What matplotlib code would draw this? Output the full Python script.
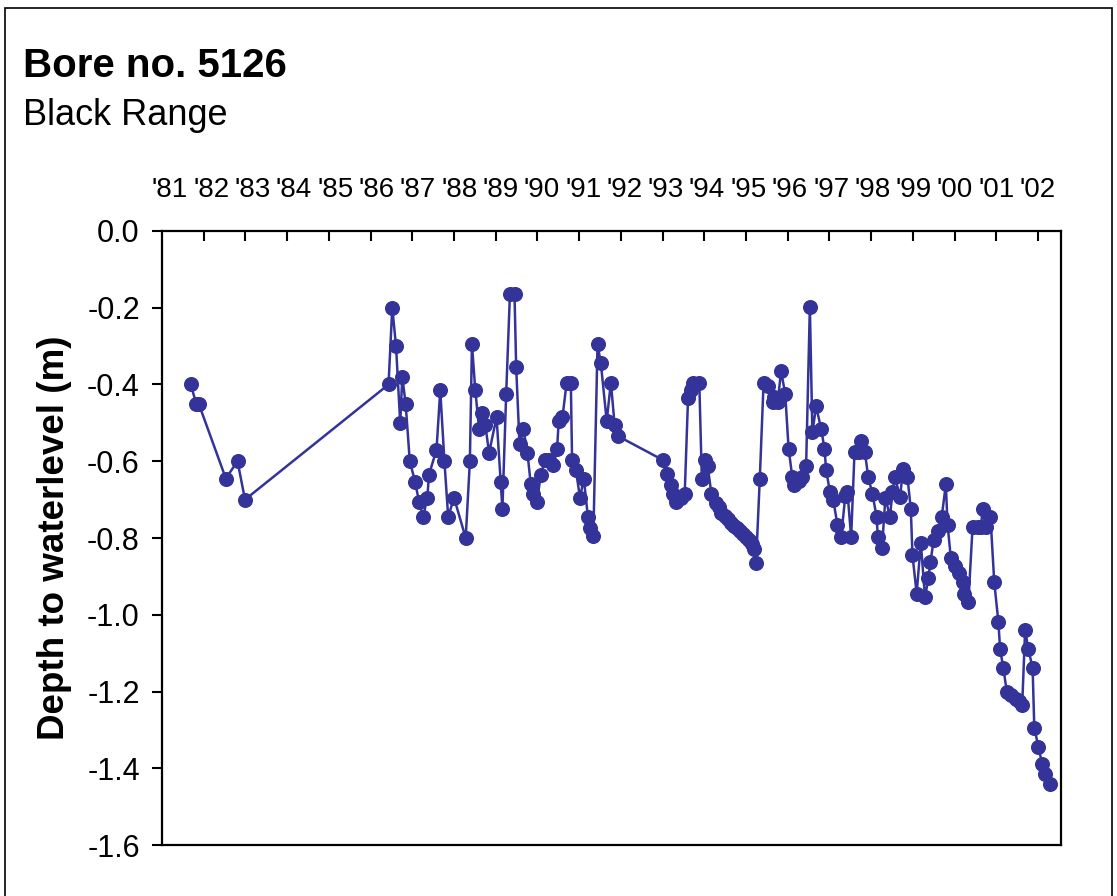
import matplotlib
matplotlib.use("Agg")
import matplotlib.pyplot as plt
from matplotlib.patches import Rectangle
import numpy as np

plt.rcParams['font.family'] = ['Liberation Sans', 'DejaVu Sans']

title = "Bore no. 5126"
subtitle = "Black Range"
ylabel = "Depth to waterlevel (m)"
year_labels = ["'81", "'82", "'83", "'84", "'85", "'86", "'87", "'88", "'89", "'90", "'91",
               "'92", "'93", "'94", "'95", "'96", "'97", "'98", "'99", "'00", "'01", "'02"]

dates = [1981.69, 1981.82, 1981.88, 1982.53, 1982.81, 1982.99,
         1986.43, 1986.52, 1986.61, 1986.71, 1986.76, 1986.84, 1986.94, 1987.07, 1987.16, 1987.26,
         1987.36, 1987.40, 1987.58, 1987.67, 1987.77, 1987.86, 1988.00, 1988.28, 1988.38, 1988.43,
         1988.51, 1988.60, 1988.66, 1988.75, 1988.84, 1989.02, 1989.12, 1989.16, 1989.25, 1989.34,
         1989.45, 1989.49, 1989.57, 1989.66, 1989.76, 1989.84, 1989.90, 1989.99, 1990.08, 1990.18,
         1990.28, 1990.38, 1990.47, 1990.51, 1990.60, 1990.70, 1990.80, 1990.83, 1990.92, 1991.02,
         1991.11, 1991.21, 1991.26, 1991.34, 1991.44, 1991.52, 1991.66, 1991.76, 1991.85, 1991.94,
         1993.01, 1993.10, 1993.20, 1993.24, 1993.33, 1993.44, 1993.53, 1993.61, 1993.68, 1993.74,
         1993.88, 1993.94, 1994.02, 1994.08, 1994.17, 1994.27, 1994.35, 1994.41, 1994.49, 1994.56,
         1994.63, 1994.72, 1994.79, 1994.86, 1994.93, 1995.00, 1995.08, 1995.14, 1995.20, 1995.24,
         1995.33, 1995.42, 1995.52, 1995.64, 1995.68, 1995.76, 1995.84, 1995.94, 1996.02, 1996.11,
         1996.16, 1996.26, 1996.35, 1996.44, 1996.53, 1996.59, 1996.68, 1996.80, 1996.88, 1996.92,
         1997.01, 1997.09, 1997.19, 1997.28, 1997.38, 1997.43, 1997.52, 1997.60, 1997.70, 1997.75,
         1997.85, 1997.93, 1998.03, 1998.13, 1998.16, 1998.26, 1998.34, 1998.45, 1998.51, 1998.57,
         1998.69, 1998.77, 1998.87, 1998.95, 1998.99, 1999.09, 1999.19, 1999.29, 1999.37, 1999.42,
         1999.50, 1999.60, 1999.69, 1999.79, 1999.83, 1999.91, 2000.02, 2000.10, 2000.19, 2000.23,
         2000.33, 2000.43, 2000.55, 2000.63, 2000.67, 2000.75, 2000.86, 2000.95, 2001.05, 2001.09,
         2001.17, 2001.25, 2001.35, 2001.47, 2001.55, 2001.62, 2001.69, 2001.77, 2001.87, 2001.91,
         2002.01, 2002.10, 2002.17, 2002.29]

depth = [-0.40, -0.45, -0.45, -0.645, -0.60, -0.70,
         -0.40, -0.20, -0.30, -0.50, -0.38, -0.45, -0.60, -0.655, -0.705, -0.745,
         -0.695, -0.635, -0.57, -0.415, -0.60, -0.745, -0.695, -0.80, -0.60, -0.295,
         -0.415, -0.515, -0.475, -0.505, -0.578, -0.485, -0.655, -0.725, -0.425, -0.165,
         -0.165, -0.355, -0.555, -0.515, -0.578, -0.66, -0.685, -0.705, -0.635, -0.597,
         -0.597, -0.61, -0.568, -0.495, -0.485, -0.395, -0.395, -0.597, -0.622, -0.695,
         -0.645, -0.745, -0.775, -0.795, -0.295, -0.345, -0.495, -0.395, -0.505, -0.535,
         -0.597, -0.632, -0.662, -0.685, -0.705, -0.695, -0.685, -0.435, -0.415, -0.397,
         -0.397, -0.645, -0.597, -0.612, -0.685, -0.71, -0.72, -0.735, -0.742, -0.75,
         -0.762, -0.77, -0.775, -0.782, -0.79, -0.797, -0.805, -0.815, -0.828, -0.865,
         -0.645, -0.397, -0.405, -0.445, -0.432, -0.445, -0.365, -0.425, -0.567, -0.642,
         -0.662, -0.652, -0.642, -0.612, -0.197, -0.525, -0.457, -0.515, -0.567, -0.622,
         -0.68, -0.70, -0.765, -0.797, -0.69, -0.68, -0.797, -0.577, -0.577, -0.547,
         -0.577, -0.642, -0.685, -0.745, -0.797, -0.825, -0.695, -0.745, -0.68, -0.642,
         -0.692, -0.62, -0.642, -0.725, -0.845, -0.945, -0.812, -0.955, -0.905, -0.862,
         -0.805, -0.782, -0.745, -0.66, -0.765, -0.852, -0.872, -0.892, -0.915, -0.945,
         -0.967, -0.772, -0.772, -0.772, -0.725, -0.772, -0.745, -0.915, -1.02, -1.09,
         -1.14, -1.20, -1.21, -1.22, -1.225, -1.235, -1.04, -1.09, -1.14, -1.295,
         -1.345, -1.39, -1.415, -1.44]

yticks = [0.0, -0.2, -0.4, -0.6, -0.8, -1.0, -1.2, -1.4, -1.6]
year_ticks = list(range(1982, 2003))

W, H = 1117, 896
fig = plt.figure(figsize=(W / 100, H / 100), dpi=100)
fig.patch.set_facecolor('white')

# outer frame
fig.add_artist(Rectangle((5 / W, -0.02), (1112 - 5) / W, 1 - 8 / H + 0.02,
                         transform=fig.transFigure, fill=False, edgecolor='black',
                         linewidth=1.2))

ax = fig.add_axes([162 / W, 1 - 845 / H, (1061 - 162) / W, (845 - 231) / H])
col = '#333399'
ax.plot(dates, depth, color=col, linewidth=1.8, marker='o', markersize=9.8,
        markerfacecolor=col, markeredgecolor=col, zorder=3, clip_on=False)

ax.set_xlim(1981.0, 2002.55)
ax.set_ylim(-1.6, 0.0)

ax.set_yticks(yticks)
ax.set_yticklabels([f"{v:.1f}" for v in yticks])
ax.tick_params(axis='y', direction='out', length=7, width=1.5, labelsize=22, pad=9)

ax.set_xticks(year_ticks)
ax.tick_params(axis='x', which='both', bottom=False, labelbottom=False, top=True,
               direction='in', length=7, width=1.5, labeltop=False)

for s in ax.spines.values():
    s.set_linewidth(1.6)
    s.set_color('black')

ax.set_ylabel(ylabel, fontsize=26.5, fontweight='bold', labelpad=11)

# year labels above the plot
for k, lab in enumerate(year_labels):
    xpos = 1981 + (171 + 41.3 * k - 163) / 41.7
    ax.text(xpos, 1 + 41 / 614, lab, transform=ax.get_xaxis_transform(),
            ha='center', va='center', fontsize=20)

fig.text(23 / W, 1 - 77 / H, title, fontsize=29, fontweight='bold', ha='left', va='baseline')
fig.text(23 / W, 1 - 125 / H, subtitle, fontsize=26, ha='left', va='baseline')

fig.savefig('out.png', dpi=100)
